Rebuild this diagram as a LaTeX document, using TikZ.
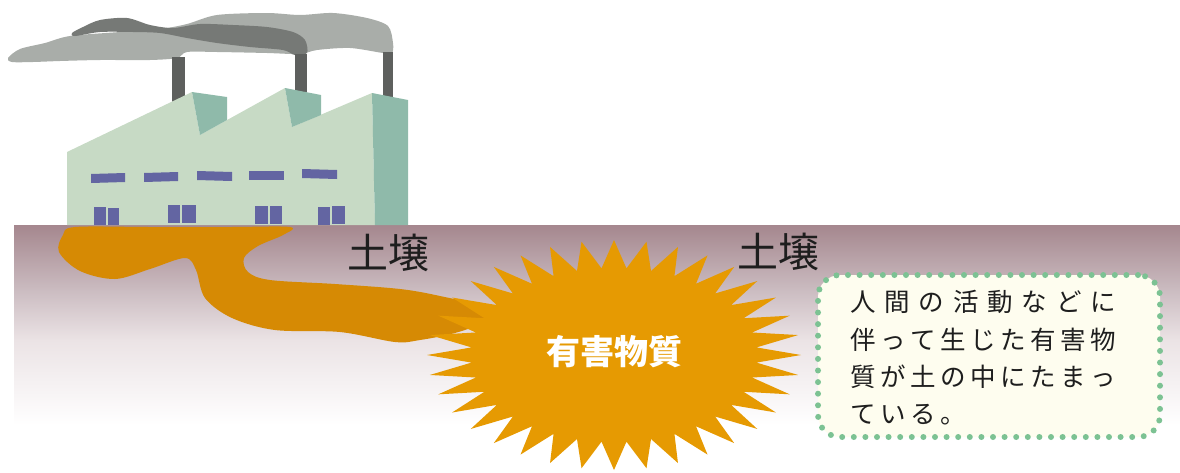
\documentclass[tikz,border=0pt]{standalone}
\usepackage{fontspec}
\newfontfamily\jp{Noto Sans CJK JP}
\definecolor{soiltop}{HTML}{A5878E}
\definecolor{soilupper}{HTML}{CBBCC1}
\definecolor{soillower}{HTML}{EBE3E5}
\definecolor{plume}{HTML}{D68A04}
\definecolor{burst}{HTML}{E69A02}
\definecolor{wall}{HTML}{C7DAC5}
\definecolor{wallside}{HTML}{8FBAAA}
\definecolor{stack}{HTML}{5E605E}
\definecolor{pane}{HTML}{6365A2}
\definecolor{smokelight}{HTML}{A9ADA9}
\definecolor{smokedark}{HTML}{767976}
\definecolor{notefill}{HTML}{FEFDEF}
\definecolor{notedot}{HTML}{7CC293}
\definecolor{ink}{HTML}{1E1E1E}
\tikzset{
  soillabel/.style={font=\jp\fontsize{41}{41}\selectfont, text=ink, inner sep=0pt},
  burstlabel/.style={font=\jp\bfseries\fontsize{34}{34}\selectfont, text=white, inner sep=0pt},
  noteline/.style={font=\jp\fontsize{25.5}{25.5}\selectfont, text=ink, inner sep=0pt, anchor=west},
  notebox/.style={fill=notefill, draw=notedot, line width=6pt, line cap=round,
    dash pattern=on 0pt off 11.6pt, rounded corners=22pt,
    minimum width=342pt, minimum height=162pt, inner sep=0pt},
  panebox/.style={fill=pane},
}
\begin{document}
\begin{tikzpicture}[x=1pt,y=-1pt]
\useasboundingbox (0,0) rectangle (1180,472);

% soil layer, fading downwards in three bands
\shade[top color=soiltop, bottom color=soilupper] (14,225) rectangle (1180,290.5);
\shade[top color=soilupper, bottom color=soillower] (14,290) rectangle (1180,340.5);
\shade[top color=soillower, bottom color=white] (14,340) rectangle (1180,425);

% seeping pollutant
\fill[plume] plot[smooth cycle, tension=0.55] coordinates {
  (75,227) (150,227) (230,227) (290,227) (283,235) (258,246) (244,258) (248,272)
  (270,280) (335,284) (400,289) (440,296) (478,306) (482,322) (455,333)
  (420,340) (395,342) (340,332) (275,330) (232,318) (205,298) (196,270)
  (185,258) (150,269) (115,279) (80,271) (59,252) (63,235)};

% starburst of the harmful substance
\fill[burst] (801,355) \foreach \i in {1,...,71} {
  -- ({614+ifthenelse(isodd(\i),143,187)*cos(\i*5)},
      {355+ifthenelse(isodd(\i),87,115)*sin(\i*5)}) } -- cycle;
\node[burstlabel] (harm) at (614,352) {有害物質};

% smoke
\fill[smokelight] plot[smooth cycle, tension=0.5] coordinates {
  (8,58) (20,49) (45,43) (70,36) (120,32) (160,29) (187,24) (217,15) (267,13)
  (300,15) (333,13) (367,18) (388,26) (393,43) (392,53) (383,53) (350,48)
  (317,50) (300,54) (267,53) (217,52) (187,52) (177,58) (150,60) (100,60)
  (60,61) (33,62) (12,62)};
\fill[smokedark] plot[smooth cycle, tension=0.5] coordinates {
  (72,33) (83,27) (100,20) (127,18) (150,25) (173,28) (200,24) (233,25)
  (267,27) (293,32) (305,40) (307,53) (295,55) (283,50) (250,47) (217,43)
  (187,38) (160,33) (133,32) (100,32) (75,36)};

% chimneys
\fill[stack] (172,57) rectangle (185,105);
\fill[stack] (295,54) rectangle (307,95);
\fill[stack] (383,52) rectangle (393,100);

% factory body and roof faces
\fill[wall] (67,152) -- (192,92) -- (200,135) -- (285,88) -- (292,127)
  -- (372,93) -- (375,225) -- (67,225) -- cycle;
\fill[wallside] (192,92) -- (227,97) -- (227,120) -- (200,135) -- cycle;
\fill[wallside] (285,88) -- (321,95) -- (321,115) -- (292,127) -- cycle;
\fill[wallside] (372,93) -- (408,100) -- (408,225) -- (375,225) -- cycle;

% windows
\fill[panebox] (91,174) -- (125,173) -- (125,182) -- (91,183) -- cycle;
\fill[panebox] (144,173) -- (178,172) -- (178,181) -- (144,182) -- cycle;
\fill[panebox] (197,171) -- (232,172) -- (232,181) -- (197,180) -- cycle;
\fill[panebox] (249,171) -- (284,171) -- (284,180) -- (249,180) -- cycle;
\fill[panebox] (302,169) -- (337,170) -- (337,179) -- (302,178) -- cycle;

% doors
\fill[panebox] (94,207) rectangle (106,225);
\fill[panebox] (108,208) rectangle (119,225);
\fill[panebox] (168,205) rectangle (180,223);
\fill[panebox] (182,205) rectangle (196,223);
\fill[panebox] (255,206) rectangle (268,224);
\fill[panebox] (270,206) rectangle (282,224);
\fill[panebox] (318,207) rectangle (330,225);
\fill[panebox] (332,206) rectangle (345,224);

% soil labels
\node[soillabel] (soilA) at (388,253) {土壌};
\node[soillabel] (soilB) at (778,252) {土壌};

% explanatory note
\node[notebox] (note) at (989,356) {};
\node[noteline] (lineA) at (850,302)
  {\makebox[266pt][s]{人\hfill 間\hfill の\hfill 活\hfill 動\hfill な\hfill ど\hfill に}};
\node[noteline] (lineB) at (850,339.5)
  {\makebox[266pt][s]{伴\hfill っ\hfill て\hfill 生\hfill じ\hfill た\hfill 有\hfill 害\hfill 物}};
\node[noteline] (lineC) at (850,377)
  {\makebox[266pt][s]{質\hfill が\hfill 土\hfill の\hfill 中\hfill に\hfill た\hfill ま\hfill っ}};
\node[noteline] (lineD) at (850,414.5)
  {\makebox[116pt][s]{て\hfill い\hfill る\hfill 。}};
\end{tikzpicture}
\end{document}
